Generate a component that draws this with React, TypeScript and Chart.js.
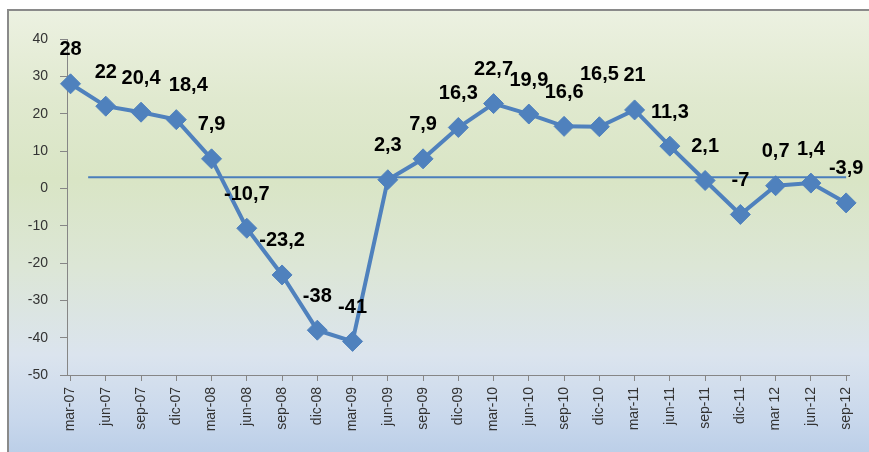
import React, { useEffect, useRef } from 'react';
import { Chart, registerables } from 'chart.js';

Chart.register(...registerables);

const categories: string[] = [
  'mar-07', 'jun-07', 'sep-07', 'dic-07', 'mar-08', 'jun-08', 'sep-08', 'dic-08',
  'mar-09', 'jun-09', 'sep-09', 'dic-09', 'mar-10', 'jun-10', 'sep-10', 'dic-10',
  'mar-11', 'jun-11', 'sep-11', 'dic-11', 'mar 12', 'jun-12', 'sep-12',
];

const values: number[] = [
  28, 22, 20.4, 18.4, 7.9, -10.7, -23.2, -38,
  -41, 2.3, 7.9, 16.3, 22.7, 19.9, 16.6, 16.5,
  21, 11.3, 2.1, -7, 0.7, 1.4, -3.9,
];

const valueLabels: string[] = values.map((v) => String(v).replace('.', ','));

const referenceLevel = 3;
const referenceFrom = 0.5;
const referenceTo = 22;

const yMin = -50;
const yMax = 40;
const yStep = 10;

// label placement tweaks (layout only)
const labelShift: Record<number, [number, number]> = {
  3: [12, 0],
  15: [0, -18],
};

const BLUE = '#4f81bd';
const AXIS = '#868686';

const valueLabelPlugin = {
  id: 'valueLabels',
  afterDatasetsDraw(chart: any) {
    const meta = chart.getDatasetMeta(0);
    const ctx = chart.ctx;
    ctx.save();
    ctx.font = 'bold 20px "Liberation Sans", Arial, sans-serif';
    ctx.fillStyle = '#000';
    ctx.textAlign = 'center';
    ctx.textBaseline = 'middle';
    meta.data.forEach((pt: any, i: number) => {
      const s = labelShift[i] || [0, 0];
      ctx.fillText(valueLabels[i], pt.x + s[0], pt.y - 34 + s[1]);
    });
    ctx.restore();
  },
};

export default function App() {
  const ref = useRef<HTMLCanvasElement | null>(null);

  useEffect(() => {
    if (!ref.current) return;
    const chart = new Chart(ref.current, {
      type: 'line',
      data: {
        datasets: [
          {
            data: values.map((v, i) => ({ x: i, y: v })),
            borderColor: BLUE,
            backgroundColor: BLUE,
            borderWidth: 4,
            pointStyle: 'rectRot',
            pointRadius: 10,
            pointBorderWidth: 1,
            pointBackgroundColor: BLUE,
            pointBorderColor: BLUE,
            tension: 0,
            clip: false,
            order: 1,
          },
          {
            data: [
              { x: referenceFrom, y: referenceLevel },
              { x: referenceTo, y: referenceLevel },
            ],
            borderColor: '#4a7ebb',
            borderWidth: 2,
            pointRadius: 0,
            tension: 0,
            clip: false,
            order: 2,
          },
        ],
      },
      options: {
        responsive: false,
        animation: false,
        devicePixelRatio: 1,
        layout: { padding: { left: 10, right: 15, top: 39, bottom: 0 } },
        plugins: {
          legend: { display: false },
          tooltip: { enabled: false },
          title: { display: false },
        },
        scales: {
          x: {
            type: 'linear',
            min: -0.1,
            max: categories.length - 1 + 0.1,
            afterBuildTicks: (s: any) => {
              s.ticks = categories.map((_, i) => ({ value: i }));
            },
            afterFit: (s: any) => {
              s.height = 77;
            },
            ticks: {
              autoSkip: false,
              minRotation: 90,
              maxRotation: 90,
              padding: 6,
              color: '#333',
              font: { family: '"Liberation Sans", Arial, sans-serif', size: 14 },
              callback: (v: any) => categories[Math.round(Number(v))] ?? '',
            },
            grid: {
              drawOnChartArea: false,
              drawTicks: true,
              tickLength: 6,
              color: AXIS,
            },
            border: { color: AXIS, width: 1 },
          },
          y: {
            min: yMin,
            max: yMax,
            afterFit: (s: any) => {
              s.width = 57;
            },
            ticks: {
              stepSize: yStep,
              padding: 12,
              color: '#333',
              font: { family: '"Liberation Sans", Arial, sans-serif', size: 14 },
            },
            grid: {
              drawOnChartArea: false,
              drawTicks: true,
              tickLength: 7,
              color: AXIS,
            },
            border: { color: AXIS, width: 1 },
          },
        },
      },
      plugins: [valueLabelPlugin],
    } as any);
    return () => chart.destroy();
  }, []);

  return (
    <div
      style={{
        position: 'fixed',
        left: 0,
        top: 0,
        width: 869,
        height: 452,
        background: '#ffffff',
        overflow: 'hidden',
      }}
    >
      <div
        style={{
          position: 'absolute',
          left: 7,
          top: 9,
          width: 862,
          height: 443,
          boxSizing: 'border-box',
          borderLeft: '2px solid #8a8a8a',
          borderTop: '2px solid #8a8a8a',
          background:
            'linear-gradient(to bottom, #ecf1e1 0%, #e0e9cf 20%, #d9e5c5 38%, #dce6d6 58%, #dbe4ee 78%, #c9d8ec 92%, #bccfe8 100%)',
        }}
      />
      <canvas
        ref={ref}
        width={869}
        height={452}
        style={{ position: 'absolute', left: 0, top: 0, width: 869, height: 452 }}
      />
    </div>
  );
}
